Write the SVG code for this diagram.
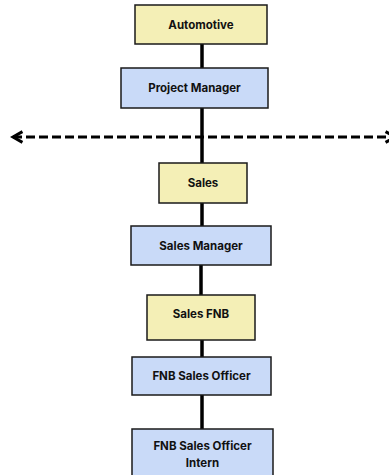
<svg xmlns="http://www.w3.org/2000/svg" width="389" height="475" viewBox="0 0 389 475">
<style>
.box{stroke:#1a1a1a;stroke-width:1.5}
.y{fill:#F4EFB6}
.b{fill:#C9DAF8}
.t{font-family:Inter,"Liberation Sans",sans-serif;font-weight:700;font-size:11.5px;fill:#111;text-anchor:middle;dominant-baseline:central}
.c{stroke:#000;stroke-width:3.5;fill:none}
.d{stroke:#000;stroke-width:3;fill:none;stroke-dasharray:9 4}
</style>
<defs>
<marker id="ah" viewBox="0 0 10 10" refX="8" refY="5" markerWidth="4.5" markerHeight="4.5" orient="auto-start-reverse" markerUnits="strokeWidth">
<path d="M1,1 L8,5 L1,9" fill="none" stroke="#000" stroke-width="2.2"/>
</marker>
</defs>
<g id="connectors">
<line class="c" x1="202" y1="44" x2="202" y2="68"/>
<line class="c" x1="202" y1="108" x2="202" y2="163"/>
<line class="c" x1="202" y1="203" x2="202" y2="226"/>
<line class="c" x1="201" y1="265" x2="201" y2="295"/>
<line class="c" x1="202" y1="340" x2="202" y2="357"/>
<line class="c" x1="202" y1="395" x2="202" y2="429"/>
<line class="d" x1="13" y1="137" x2="395" y2="137" marker-start="url(#ah)" marker-end="url(#ah)"/>
</g>
<g id="automotive"><rect class="box y" x="135" y="5" width="132" height="39"/><text class="t" x="201" y="25">Automotive</text></g>
<g id="project-manager"><rect class="box b" x="121" y="68" width="147" height="40"/><text class="t" x="194.5" y="88">Project Manager</text></g>
<g id="sales"><rect class="box y" x="159" y="163" width="88" height="40"/><text class="t" x="203" y="183">Sales</text></g>
<g id="sales-manager"><rect class="box b" x="131" y="226" width="140" height="39"/><text class="t" x="201" y="245.5">Sales Manager</text></g>
<g id="sales-fnb"><rect class="box y" x="147" y="295" width="108" height="45"/><text class="t" x="201" y="314">Sales FNB</text></g>
<g id="fnb-sales-officer"><rect class="box b" x="132" y="357" width="139" height="38"/><text class="t" x="201.5" y="376">FNB Sales Officer</text></g>
<g id="fnb-sales-officer-intern"><rect class="box b" x="132" y="429" width="141" height="50"/><text class="t" x="202.5" y="446">FNB Sales Officer</text><text class="t" x="202.5" y="463">Intern</text></g>
</svg>
